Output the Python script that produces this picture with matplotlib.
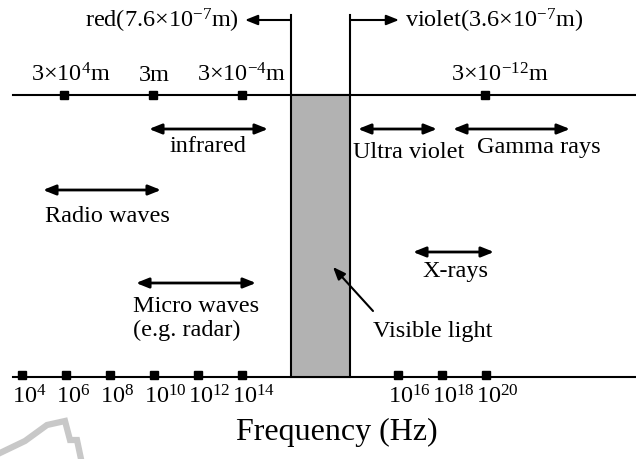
import matplotlib
matplotlib.use('Agg')
import matplotlib.pyplot as plt
from matplotlib.patches import Rectangle

plt.rcParams['font.family'] = ['Liberation Serif', 'DejaVu Serif']
plt.rcParams['mathtext.fontset'] = 'custom'
plt.rcParams['mathtext.rm'] = 'Liberation Serif'
plt.rcParams['mathtext.it'] = 'Liberation Serif:italic'

# schematic spectrum (positions in picture units, y grows downward)
freq_exp = [4, 6, 8, 10, 12, 14, 16, 18, 20]
freq_pos = [22, 66, 110, 154, 198, 242, 398, 442, 486]

wave_labels = ['3×$10^{4}$m', '3m', '3×$10^{-4}$m', '3×$10^{-12}$m']
wave_pos = [64, 153, 242, 485]
wave_label_x = [71, 154, 242, 500]

visible_left = 291
visible_right = 350

band_names = ['infrared', 'Radio waves', 'Micro waves\n(e.g. radar)',
              'Ultra violet', 'Gamma rays', 'X-rays']
band_start = [149, 43, 136, 358, 453, 413]
band_end = [268, 161, 256, 437, 570, 494]
band_row = [129, 190, 283, 129, 129, 252]
# label anchor: x, top y, alignment
band_label_x = [208, 107, 133, 409, 539, 455]
band_label_y = [136, 206, 296, 142, 137, 261]
band_label_ha = ['center', 'center', 'left', 'center', 'center', 'center']

top_y = 95
bottom_y = 377
fs = 17.5
head = '-|>,head_length=0.75,head_width=0.3'
head2 = '<|-|>,head_length=0.75,head_width=0.3'

fig = plt.figure(figsize=(6.36, 4.59), dpi=100)
ax = fig.add_axes([0, 0, 1, 1])
ax.set_xlim(0, 636)
ax.set_ylim(459, 0)
ax.axis('off')

# watermark fragment bottom-left
ax.plot([0, 25, 47, 65, 70, 77, 81], [453, 441, 425, 421, 440, 440, 459],
        color='#c8c8c8', lw=4.5, solid_joinstyle='miter', zorder=0)

# axis lines
ax.plot([13, 636], [top_y, top_y], color='black', lw=1.5)
ax.plot([13, 636], [bottom_y, bottom_y], color='black', lw=1.5)

# visible band
ax.add_patch(Rectangle((visible_left, top_y), visible_right - visible_left,
                       bottom_y - top_y, facecolor='#b2b2b2',
                       edgecolor='black', lw=1.5, zorder=2))
ax.plot([visible_left, visible_left], [15, top_y], color='black', lw=1.5)
ax.plot([visible_right, visible_right], [15, top_y], color='black', lw=1.5)
ax.annotate('', xy=(245, 20), xytext=(visible_left, 20),
            arrowprops=dict(arrowstyle=head, color='black', lw=1.5,
                            shrinkA=0, shrinkB=0))
ax.annotate('', xy=(399, 20), xytext=(visible_right, 20),
            arrowprops=dict(arrowstyle=head, color='black', lw=1.5,
                            shrinkA=0, shrinkB=0))
ax.text(239, 28, 'red(7.6×$10^{-7}$m)', fontsize=fs, ha='right', va='baseline')
ax.text(405, 28, 'violet(3.6×$10^{-7}$m)', fontsize=fs, ha='left', va='baseline')

# wavelength ticks on top line
ax.plot(wave_pos, [top_y] * len(wave_pos), 's', color='black', ms=5.5)
for x, lab in zip(wave_label_x, wave_labels):
    ax.text(x, 81, lab, fontsize=fs, ha='center', va='baseline')

# frequency ticks on bottom line
ax.plot(freq_pos, [bottom_y - 2] * len(freq_pos), 's', color='black', ms=5.5)
for x, e in zip(freq_pos, freq_exp):
    ax.text(x - 10, 403, '$10^{%d}$' % e, fontsize=fs, ha='left', va='baseline')

ax.text(337, 440, 'Frequency (Hz)', fontsize=23, ha='center', va='baseline')

# bands
for i in range(len(band_names)):
    ax.annotate('', xy=(band_start[i], band_row[i]), xytext=(band_end[i], band_row[i]),
                arrowprops=dict(arrowstyle=head2, color='black', lw=2,
                                shrinkA=0, shrinkB=0))
    ax.text(band_label_x[i], band_label_y[i], band_names[i], fontsize=fs,
            ha=band_label_ha[i], va='top', linespacing=1.2)

ax.annotate('', xy=(333, 267), xytext=(373, 311),
            arrowprops=dict(arrowstyle=head, color='black', lw=1.5,
                            shrinkA=0, shrinkB=0), zorder=3)
ax.text(373, 337, 'Visible light', fontsize=fs, ha='left', va='baseline')

fig.savefig('out.png', dpi=100)
